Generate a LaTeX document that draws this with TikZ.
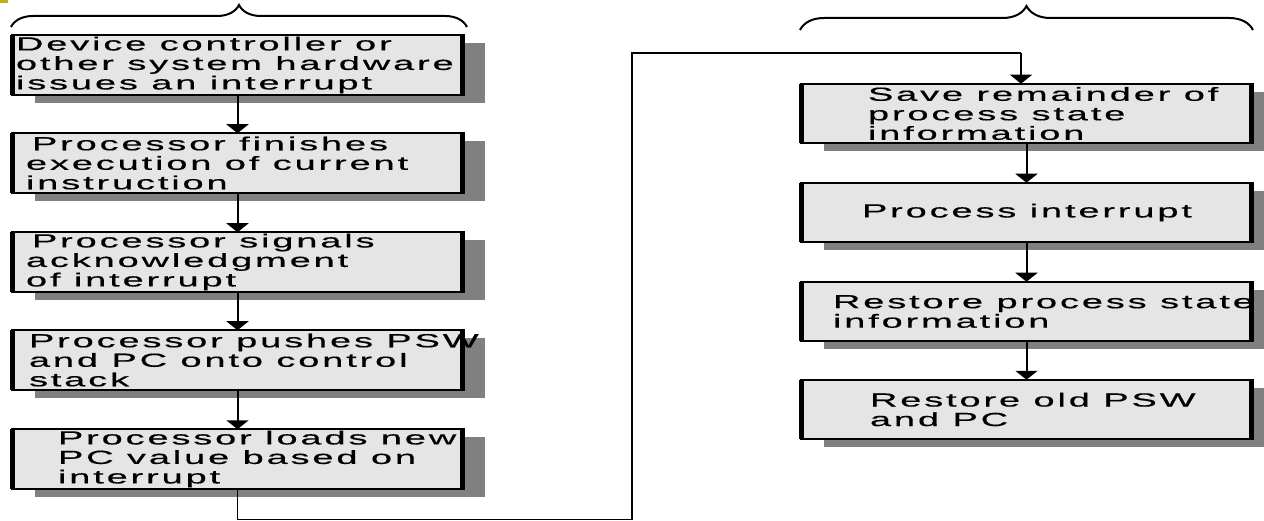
\documentclass[tikz,border=0pt]{standalone}
\usepackage{fontspec}
\newfontfamily\boxfont{Liberation Sans}[FakeStretch=2.0,LetterSpace=15,FakeBold=0.5]
\usetikzlibrary{arrows.meta,shadows,decorations.pathreplacing}
\definecolor{boxfill}{RGB}{229,229,229}
\definecolor{shadowgray}{RGB}{128,128,128}
\definecolor{markyellow}{RGB}{196,176,20}
\begin{document}
\begin{tikzpicture}[x=1pt,y=-1pt,
  box/.style={rectangle, draw=black, line width=2.2pt, fill=boxfill,
    minimum width=450pt, minimum height=59.5pt, inner sep=0pt, outer sep=0pt,
    drop shadow={shadow xshift=22pt, shadow yshift=-8pt, fill=shadowgray, opacity=1}},
  txt/.style={font=\boxfont\fontsize{19pt}{19.5pt}\selectfont, align=left,
    inner sep=0pt, outer sep=0pt, anchor=west, text=black},
  vline/.style={line width=4.5pt, shorten <=-1.1pt, shorten >=-1.1pt},
  arr/.style={line width=2pt, -{Triangle[width=22pt 0, length=9pt 0]}},
  conn/.style={line width=1.4pt},
  bracestyle/.style={line width=2pt, decorate, decoration={brace, amplitude=#1}}]
\useasboundingbox (0,0) rectangle (1264,521);
\fill[markyellow] (0,0) rectangle (8,3.5);
% braces
\draw[bracestyle=22pt] (11,27) -- (467,27);
\draw[bracestyle=24pt] (800,30) -- (1253,30);
% left column boxes
\node[box] (b1) at (237.5,65) {};
\node[box] (b2) at (237.5,163) {};
\node[box] (b3) at (237.5,262) {};
\node[box] (b4) at (237.5,360) {};
\node[box] (b5) at (237.5,459) {};
% right column boxes
\node[box] (r1) at (1026.5,113.5) {};
\node[box] (r2) at (1026.5,212.5) {};
\node[box] (r3) at (1026.5,311.5) {};
\node[box] (r4) at (1026.5,409.5) {};
% texts
\node[txt] (t1) at (16,65) {Device controller or\\other system hardware\\issues an interrupt};
\node[txt] (t2) at (26,163) {\hspace*{6pt}Processor finishes\\execution of current\\instruction};
\node[txt] (t3) at (26,262) {\hspace*{6pt}Processor signals\\acknowledgment\\of interrupt};
\node[txt] (t4) at (29,360) {Processor pushes PSW\\and PC onto control\\stack};
\node[txt] (t5) at (58,459) {Processor loads new\\PC value based on\\interrupt};
\node[txt] (u1) at (868,113.5) {Save remainder of\\process state\\information};
\node[txt] (u2) at (862,212.5) {Process interrupt};
\node[txt] (u3) at (833,311.5) {Restore process state\\information};
\node[txt] (u4) at (870,409.5) {Restore old PSW\\and PC};
% thick side borders
\foreach \n in {b1,b2,b3,b4,b5,r1,r2,r3,r4}
  \draw[vline] (\n.north west) -- (\n.south west) (\n.north east) -- (\n.south east);
% arrows
\draw[arr] (b1.south) -- (b2.north);
\draw[arr] (b2.south) -- (b3.north);
\draw[arr] (b3.south) -- (b4.north);
\draw[arr] (b4.south) -- (b5.north);
\draw[arr] (r1.south) -- (r2.north);
\draw[arr] (r2.south) -- (r3.north);
\draw[arr] (r3.south) -- (r4.north);
% long connector
\coordinate (c1) at (632,519.5);
\coordinate (c2) at (632,53);
\coordinate (c3) at (1021,53);
\draw[conn] (b5.south) |- (c1) -- (c2) -- (c3);
\draw[arr, line width=1.4pt] (c3) -- (c3 |- r1.north);
\end{tikzpicture}
\end{document}
